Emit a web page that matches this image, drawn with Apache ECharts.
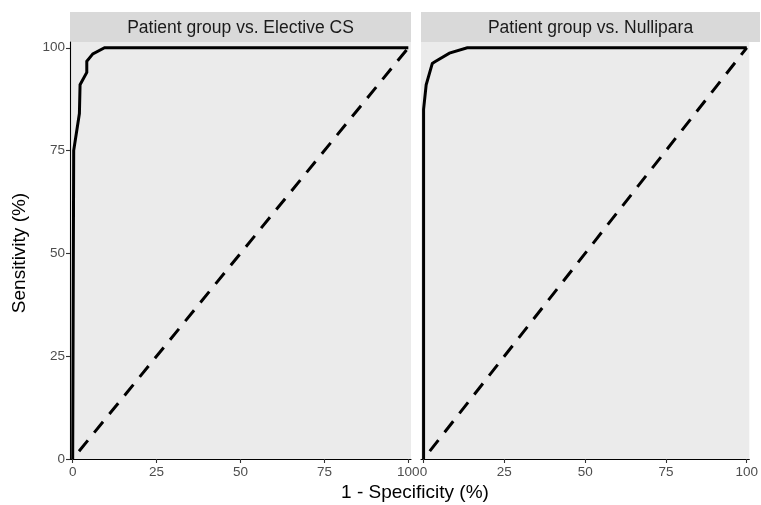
<!DOCTYPE html>
<html>
<head>
<meta charset="utf-8">
<script src="https://cdn.jsdelivr.net/npm/echarts@6/dist/echarts.min.js"></script>
<style>
html,body{margin:0;padding:0;background:#fff;}
#c{width:761px;height:505px;}
</style>
</head>
<body>
<div id="c"></div>
<script>
// ---- data ----
const tickValues = [0, 25, 50, 75, 100];
const tickLabels = ['0', '25', '50', '75', '100'];
const panelTitles = ['Patient group vs. Elective CS', 'Patient group vs. Nullipara'];
const xTitle = '1 - Specificity (%)';
const yTitle = 'Sensitivity (%)';

// Panel 1: Patient group vs. Elective CS (1 - specificity, sensitivity)
const electiveFpr = [0, 0.3, 2.0, 2.2, 4.2, 4.2, 6.0, 9.5, 100];
const electiveTpr = [0, 75, 84, 91, 94, 96.7, 98.5, 100, 100];

// Panel 2: Patient group vs. Nullipara
const nulliFpr = [0, 0, 0.8, 2.7, 3.5, 8.0, 13.5, 100];
const nulliTpr = [0, 85, 91, 96.2, 96.6, 98.7, 100, 100];

// Reference diagonal
const diagFpr = [0, 100];
const diagTpr = [0, 100];

const zip = (a, b) => a.map((v, i) => [v, b[i]]);

// ---- layout ----
const FONT = "'Liberation Sans', Arial, sans-serif";
const grids = [
  { left: 70, top: 42, width: 341, height: 417 },
  { left: 421, top: 42, width: 339, height: 417 }
];

const chart = echarts.init(document.getElementById('c'), null, { renderer: 'canvas' });

function xAxisFor(i) {
  return {
    type: 'value', gridIndex: i, min: -0.8, max: 100.8,
    splitLine: { show: false },
    axisLine: { show: true, onZero: false, lineStyle: { color: '#000', width: 1.1 } },
    axisTick: { show: true, customValues: tickValues, length: 4, lineStyle: { color: '#333', width: 1.1 } },
    axisLabel: { show: true, customValues: tickValues, formatter: v => tickLabels[tickValues.indexOf(v)], color: '#4D4D4D', fontSize: 13.5, fontFamily: FONT, margin: 6, showMinLabel: true, showMaxLabel: true, hideOverlap: false }
  };
}
function yAxisFor(i) {
  const show = i === 0;
  return {
    type: 'value', gridIndex: i, min: 0, max: 101.4,
    splitLine: { show: false },
    axisLine: { show: show, onZero: false, lineStyle: { color: '#000', width: 1.1 } },
    axisTick: { show: show, customValues: tickValues, length: 4, lineStyle: { color: '#333', width: 1.1 } },
    axisLabel: { show: show, customValues: tickValues, formatter: v => tickLabels[tickValues.indexOf(v)], color: '#4D4D4D', fontSize: 13.5, fontFamily: FONT, margin: 5, showMinLabel: true, showMaxLabel: true }
  };
}

const curveStyle = { color: '#000', width: 3, join: 'miter' };
const dashStyle = { color: '#000', width: 3, type: [14, 10], dashOffset: 14, cap: 'butt' };

const graphic = [];
grids.forEach((g, i) => {
  graphic.push({
    type: 'rect', left: g.left, top: 12, silent: true,
    shape: { width: g.width, height: 30 },
    style: { fill: '#D9D9D9' }
  });
  graphic.push({
    type: 'text', silent: true,
    x: g.left + g.width / 2, y: 28,
    style: { text: panelTitles[i], fill: '#1A1A1A', font: '17.5px ' + FONT, align: 'center', verticalAlign: 'middle' }
  });
});
graphic.push({
  type: 'text', silent: true, x: 415, y: 493,
  style: { text: xTitle, fill: '#000', font: '19px ' + FONT, align: 'center', verticalAlign: 'middle' }
});
graphic.push({
  type: 'text', silent: true, x: 20, y: 253, rotation: Math.PI / 2,
  style: { text: yTitle, fill: '#000', font: '19px ' + FONT, align: 'center', verticalAlign: 'middle' }
});

chart.setOption({
  animation: false,
  backgroundColor: '#fff',
  grid: grids.map(g => Object.assign({ show: true, backgroundColor: '#EBEBEB', borderWidth: 0, containLabel: false }, g)),
  xAxis: [xAxisFor(0), xAxisFor(1)],
  yAxis: [yAxisFor(0), yAxisFor(1)],
  graphic: graphic,
  series: [
    { type: 'line', xAxisIndex: 0, yAxisIndex: 0, data: zip(diagFpr, diagTpr), symbol: 'none', lineStyle: dashStyle, z: 2 },
    { type: 'line', xAxisIndex: 0, yAxisIndex: 0, data: zip(electiveFpr, electiveTpr), symbol: 'none', lineStyle: curveStyle, z: 3 },
    { type: 'line', xAxisIndex: 1, yAxisIndex: 1, data: zip(diagFpr, diagTpr), symbol: 'none', lineStyle: dashStyle, z: 2 },
    { type: 'line', xAxisIndex: 1, yAxisIndex: 1, data: zip(nulliFpr, nulliTpr), symbol: 'none', lineStyle: curveStyle, z: 3 }
  ]
});
</script>
</body>
</html>
